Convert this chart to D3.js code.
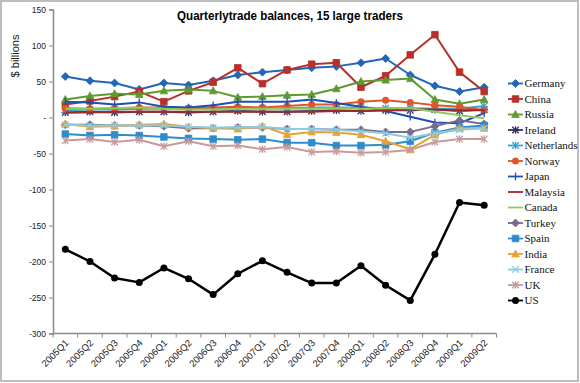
<!DOCTYPE html>
<html><head><meta charset="utf-8">
<script src="https://cdn.jsdelivr.net/npm/d3@7"></script>
<style>body{margin:0;background:#fff}svg{display:block}</style>
</head><body><svg id="c" width="580" height="383"></svg>
<script>
const categories = ["2005Q1","2005Q2","2005Q3","2005Q4","2006Q1","2006Q2","2006Q3","2006Q4","2007Q1","2007Q2","2007Q3","2007Q4","2008Q1","2008Q2","2008Q3","2008Q4","2009Q1","2009Q2"];
const yTicks = [150,100,50,0,-50,-100,-150,-200,-250,-300];
const seriesNames = ["Germany","China","Russia","Ireland","Netherlands","Norway","Japan","Malaysia","Canada","Turkey","Spain","India","France","UK","US"];
const germany = [57,51,48,39,48,45,51,59,63,66,69,71,76,82,59,44,36,42];
const china = [18,23,29,36,22,37,49,69,47,66,74,76,42,58,87,115,63,36];
const russia = [25,30,33,32,37,39,37,28,29,31,32,40,50,52,54,25,19,25];
const ireland = [7,8,7,8,8,7,8,9,8,8,9,10,9,10,10,11,9,11];
const netherlands = [10,11,11,12,12,12,12,13,13,13,14,14,14,13,13,12,12,16];
const norway = [13,12,13,14,14,13,14,15,14,16,18,18,22,24,21,17,15,10];
const japan = [22,21,18,21,15,14,17,22,22,22,25,20,15,9,1,-7,-8,6];
const malaysia = [7,7,8,8,8,8,8,8,8,8,8,9,9,10,11,11,10,10];
const canada = [12,12,13,14,12,11,11,12,12,12,12,13,12,13,13,8,3,-1];
const turkey = [-10,-10,-11,-11,-12,-15,-15,-14,-14,-16,-16,-17,-17,-20,-20,-12,-4,-9];
const spain = [-23,-25,-24,-25,-27,-29,-30,-31,-30,-35,-35,-39,-39,-38,-33,-21,-14,-11];
const india = [-9,-13,-12,-10,-9,-13,-15,-16,-12,-24,-20,-21,-24,-33,-44,-24,-15,-15];
const france = [-10,-11,-11,-11,-11,-13,-14,-14,-13,-16,-16,-17,-19,-22,-28,-22,-17,-15];
const uk = [-32,-30,-34,-31,-40,-33,-40,-39,-44,-41,-48,-47,-49,-48,-45,-34,-30,-30];
const us = [-183,-200,-223,-229,-209,-224,-246,-217,-199,-215,-230,-230,-206,-233,-254,-190,-118,-122];

const values = [germany,china,russia,ireland,netherlands,norway,japan,malaysia,canada,turkey,spain,india,france,uk,us];
const colors = ["#2266b8","#b8302a","#5f9a30","#3c2f62","#3aa3cc","#e0562a","#1f4fb0","#a0282a","#8fcc5c","#7a6a8c","#2e8bcc","#e8a232","#8ccbe2","#c89a9a","#000000"];
const markers = ["diamond","square","triangle","star","asterisk","circle","plus","none","none","diamond","square","triangle","x","asterisk","circle"];

const svg = d3.select("#c");
svg.append("rect").attr("x",1).attr("y",1).attr("width",577).attr("height",380)
  .attr("fill","#fff").attr("stroke","#bdbdbd").attr("stroke-width",2);

const x = d3.scaleBand().domain(categories).range([53,496.5]);
const y = d3.scaleLinear().domain([-300,150]).range([333.5,9.5]);
const cx = c => x(c) + x.bandwidth()/2;

// y axis
const ya = svg.append("g").attr("transform","translate(53,0)")
  .call(d3.axisLeft(y).tickValues(yTicks).tickSize(4).tickPadding(3).tickFormat(d => d===0 ? "-" : d));
ya.select(".domain").attr("stroke","#8a8a8a").attr("stroke-width",1.5);
ya.selectAll(".tick line").attr("stroke","#8a8a8a");
ya.selectAll("text").attr("font-family","Liberation Sans, Arial, sans-serif").attr("font-size",8.5).attr("fill","#222");

// x axis
const xa = svg.append("g").attr("transform","translate(0,333.5)");
xa.append("line").attr("x1",53).attr("x2",496.5).attr("y1",0).attr("y2",0).attr("stroke","#8a8a8a").attr("stroke-width",1.5);
const bounds = categories.map(c => x(c)).concat([x(categories[categories.length-1]) + x.bandwidth()]);
xa.selectAll("line.t").data(bounds).enter().append("line").attr("class","t")
  .attr("x1",d=>d).attr("x2",d=>d).attr("y1",0).attr("y2",4).attr("stroke","#8a8a8a");
xa.selectAll("text").data(categories).enter().append("text")
  .attr("transform",d=>`translate(${cx(d)+4},${10}) rotate(-45)`)
  .attr("text-anchor","end").attr("font-family","Liberation Sans, Arial, sans-serif")
  .attr("font-size",9.5).attr("fill","#222").text(d=>d);

// titles
svg.append("text").attr("x",290).attr("y",20).attr("text-anchor","middle")
  .attr("font-family","Liberation Sans, Arial, sans-serif").attr("font-weight","bold").attr("font-size",13)
  .attr("textLength",226).attr("lengthAdjust","spacingAndGlyphs")
  .text("Quarterlytrade balances,  15 large traders");
svg.append("text").attr("transform","translate(19,56) rotate(-90)").attr("text-anchor","middle")
  .attr("font-family","Liberation Sans, Arial, sans-serif").attr("font-size",11).attr("fill","#222")
  .text("$ billions");

function drawMarker(g, type, px, py, color){
  const s = 3.3;
  if (type === "none") return;
  let d = null;
  if (type==="diamond") d = `M${px},${py-4}L${px+4},${py}L${px},${py+4}L${px-4},${py}Z`;
  if (type==="square") d = `M${px-3.3},${py-3.3}h6.6v6.6h-6.6Z`;
  if (type==="triangle") d = `M${px},${py-4}L${px+3.8},${py+3}L${px-3.8},${py+3}Z`;
  if (d){ g.append("path").attr("d",d).attr("fill",color).attr("stroke",color).attr("stroke-width",0.8); return; }
  if (type==="circle"){ g.append("circle").attr("cx",px).attr("cy",py).attr("r",3.5).attr("fill",color); return; }
  const segs = [];
  if (type==="x"||type==="asterisk"||type==="star"){ segs.push([-s,-s,s,s],[-s,s,s,-s]); }
  if (type==="asterisk"||type==="star"||type==="plus"){ segs.push([0,-s-0.5,0,s+0.5]); }
  if (type==="star"){ segs.push([-s-0.5,0,s+0.5,0]); }
  segs.forEach(q => g.append("line").attr("x1",px+q[0]).attr("y1",py+q[1]).attr("x2",px+q[2]).attr("y2",py+q[3])
    .attr("stroke",color).attr("stroke-width",1.3));
}

const line = d3.line().x((d,i)=>cx(categories[i])).y(d=>y(d));
const plot = svg.append("g");
seriesNames.forEach((name,k)=>{
  const g = plot.append("g");
  g.append("path").datum(values[k]).attr("d",line).attr("fill","none")
    .attr("stroke",colors[k]).attr("stroke-width", name==="US"?2.5:2).attr("stroke-linejoin","round");
  values[k].forEach((v,i)=>drawMarker(g, markers[k], cx(categories[i]), y(v), colors[k]));
});

// legend
const lg = svg.append("g");
seriesNames.forEach((name,k)=>{
  const ly = 83.5 + k*15.5;
  lg.append("line").attr("x1",508).attr("x2",523).attr("y1",ly).attr("y2",ly)
    .attr("stroke",colors[k]).attr("stroke-width",1.8);
  drawMarker(lg, markers[k], 515.5, ly, colors[k]);
  lg.append("text").attr("x",524.5).attr("y",ly+3.8)
    .attr("font-family","Liberation Serif, Times New Roman, serif").attr("font-size",11).attr("fill","#111")
    .text(name);
});
</script></body></html>
